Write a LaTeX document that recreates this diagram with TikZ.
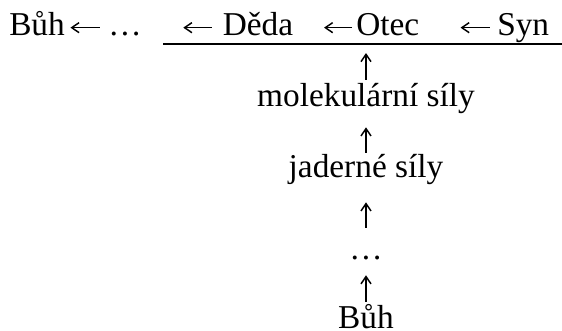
\documentclass[tikz,border=0pt]{standalone}
\usepackage{fontspec}
\setmainfont{Liberation Serif}
\usetikzlibrary{arrows.meta}

\begin{document}
\begin{tikzpicture}[x=0.75pt,y=-0.75pt,
  word/.style={inner sep=0pt, text height=18.75pt, text depth=6.25pt,
    font=\fontsize{25}{30}\selectfont},
  arr/.style={-{Straight Barb[length=5.5pt,width=7.5pt]}, line width=1.1pt}]

\def \base {36}
\def \mid {366}

\useasboundingbox (0,0) rectangle (562,331);

% top row
\node[word, anchor=base west] (buhA) at (9,\base) {Bůh};
\node[word, anchor=base] (dotsA) at (125,\base) {…};
\node[word, anchor=base west] (deda) at (222.5,\base) {Děda};
\node[word, anchor=base west] (otec) at (356,\base) {Otec};
\node[word, anchor=base west] (syn) at (497,\base) {Syn};

\draw[arr, shorten <=6.2pt, shorten >=4pt] (dotsA) -- (buhA);
\draw[arr, shorten <=7.9pt, shorten >=31pt] (deda) -- (dotsA);
\draw[arr, shorten <=3pt, shorten >=23pt] (otec) -- (deda);
\draw[arr, shorten <=5.3pt, shorten >=30.8pt] (syn) -- (otec);

\coordinate (lineL) at (163,44.5);
\coordinate (lineR) at (562,44.5);
\coordinate (top) at (\mid,44.5);
\draw[line width=1.5pt] (lineL) -- (lineR);

% column
\node[word, anchor=base] (mol) at (\mid,107) {molekulární síly};
\node[word, anchor=base] (jad) at (\mid,178) {jaderné síly};
\node[word, anchor=base] (dotsB) at (\mid,260) {…};
\node[word, anchor=base] (buhB) at (\mid,329) {Bůh};

\draw[arr, shorten <=1.5pt, shorten >=6.4pt] (mol) -- (top);
\draw[arr, shorten <=0pt, shorten >=8.8pt] (jad) -- (mol);
\draw[arr, shorten <=5.2pt, shorten >=11.8pt] (dotsB) -- (jad);
\draw[arr, shorten <=1.5pt, shorten >=5pt] (buhB) -- (dotsB);
\end{tikzpicture}
\end{document}
